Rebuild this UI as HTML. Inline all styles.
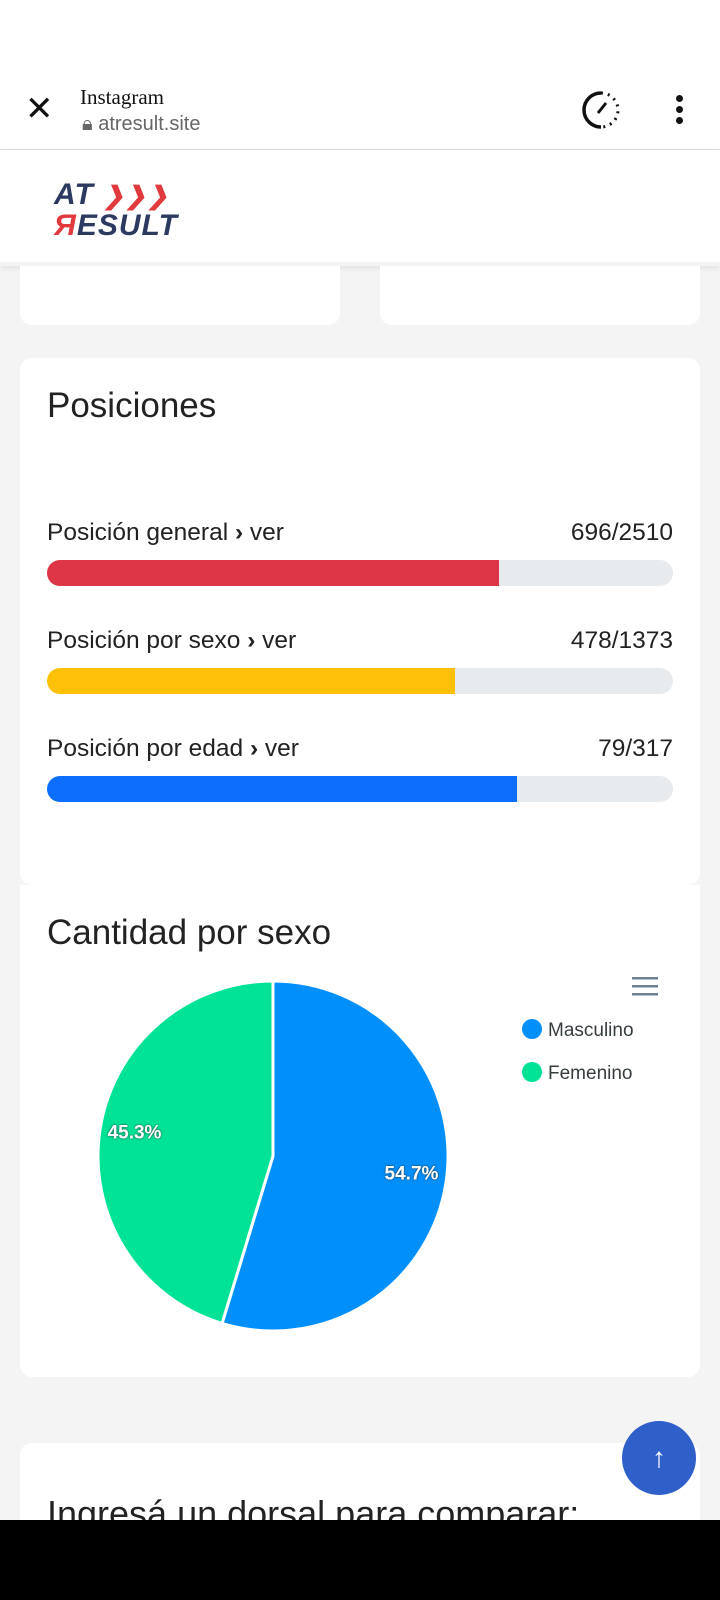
<!DOCTYPE html>
<html style="overflow:hidden;height:1600px"><head><meta charset="utf-8">
<style>
*{box-sizing:border-box;margin:0;padding:0}
body{width:720px;height:1600px;overflow:hidden;background:#f4f4f4;font-family:"Liberation Sans",sans-serif;color:#212529;position:relative}
.abs{position:absolute}
.card{position:absolute;background:#fff;border-radius:12px}
.lbl{position:absolute;left:27px;font-size:24.5px;color:#222;white-space:nowrap}
.val{position:absolute;right:27px;font-size:24.5px;color:#222}
.track{position:absolute;left:27px;width:626px;height:26px;border-radius:13px;background:#e8ebee;overflow:hidden}
.fill{height:100%}
</style></head><body>
<div class="abs" style="left:0;top:0;width:720px;height:149px;background:#fff"></div>
<div class="abs" style="left:25px;top:92px;font-size:34px;line-height:34px;color:#111">✕</div>
<div class="abs" style="left:80px;top:85px;font-family:'Liberation Serif',serif;font-size:21px;color:#111">Instagram</div>
<div class="abs" style="left:82px;top:113px;font-size:20px;color:#666">🔒︎ atresult.site</div>
<svg class="abs" style="left:580px;top:89px" width="42" height="42"><path d="M21 4 A17 17 0 0 0 21 38" fill="none" stroke="#111" stroke-width="3.5"/><path d="M21 4 A17 17 0 0 1 21 38" fill="none" stroke="#111" stroke-width="3" stroke-dasharray="2 5"/><line x1="18" y1="24" x2="26" y2="14" stroke="#111" stroke-width="3"/></svg>
<div class="abs" style="left:676px;top:95px;width:7px">
<div style="width:7px;height:7px;border-radius:50%;background:#111;margin-bottom:4px"></div><div style="width:7px;height:7px;border-radius:50%;background:#111;margin-bottom:4px"></div><div style="width:7px;height:7px;border-radius:50%;background:#111"></div></div>
<div class="abs" style="left:0;top:149px;width:720px;height:1px;background:#ddd"></div>
<div class="abs" style="left:0;top:150px;width:720px;height:116px;background:#fff;box-shadow:0 2px 6px rgba(0,0,0,.08)"></div>
<div class="abs" style="left:54px;top:180px;font-style:italic;font-weight:bold;font-size:30px;line-height:29px;color:#2b3a5e;letter-spacing:1px">AT <span style="color:#e0393e;font-size:25px">❯❯❯</span><br><span style="color:#e0393e">Я</span>ESULT</div>
<div class="card" style="left:20px;top:260px;width:320px;height:65px;border-radius:0 0 12px 12px"></div>
<div class="card" style="left:380px;top:260px;width:320px;height:65px;border-radius:0 0 12px 12px"></div>
<div class="abs" style="left:0;top:262px;width:720px;height:4px;background:#f4f4f4"></div>

<div class="card" style="left:20px;top:358px;width:680px;height:527px">
<div class="abs" style="left:27px;top:28px;font-size:35px;color:#222">Posiciones</div>
<div id="rows"></div>
</div>

<div class="card" style="left:20px;top:885px;width:680px;height:492px;border-radius:0 0 12px 12px">
<div class="abs" style="left:27px;top:28px;font-size:35px;color:#222">Cantidad por sexo</div>
</div>
<svg id="pie" class="abs" style="left:0;top:885px" width="720" height="492"></svg>

<div class="card" style="left:20px;top:1443px;width:680px;height:150px;overflow:hidden">
<div class="abs" style="left:27px;top:50px;font-size:36px;color:#222;white-space:nowrap">Ingresá un dorsal para comparar:</div>
</div>
<div class="abs" style="left:622px;top:1421px;width:74px;height:74px;border-radius:50%;background:#2f5fc9;color:#fff;font-size:28px;text-align:center;line-height:74px">↑</div>
<div class="abs" style="left:0;top:1520px;width:720px;height:80px;background:#000"></div>

<script>
const rowLabels=["Posición general","Posición por sexo","Posición por edad"];
const rowPos=[696,478,79];
const rowTotal=[2510,1373,317];
const rowColors=["#dc3545","#ffc107","#0d6efd"];
const rows=document.getElementById('rows');
rowLabels.forEach((l,i)=>{
  const a=document.createElement('div');a.className='lbl';a.style.top=(161+i*108)+'px';
  a.innerHTML=l+' <b>›</b> ver';
  
  
  rows.appendChild(a);
  const v=document.createElement('div');v.className='val';v.style.top=(161+i*108)+'px';v.textContent=rowPos[i]+'/'+rowTotal[i];
  
  
  rows.appendChild(v);
  const t=document.createElement('div');t.className='track';t.style.top=(202+i*108)+'px';
  
  
  const f=document.createElement('div');f.className='fill';f.style.background=rowColors[i];
  f.style.width=((1-rowPos[i]/rowTotal[i])*100)+'%';
  
  
  t.appendChild(f);rows.appendChild(t);
});
const pieCats=["Masculino","Femenino"];
const pieVals=[54.7,45.3];
const pieColors=["#008ffb","#00e396"];
const svg=document.getElementById('pie');const NS='http://www.w3.org/2000/svg';
const cx=273,cy=271,r=175;
const total=pieVals.reduce((a,b)=>a+b,0);
let ang=0;
pieVals.forEach((v,i)=>{
  const a0=ang,a1=ang+v/total*2*Math.PI;ang=a1;
  const p=(a)=>[cx+r*Math.sin(a),cy-r*Math.cos(a)];
  const [x0,y0]=p(a0),[x1,y1]=p(a1);
  const path=document.createElementNS(NS,'path');
  path.setAttribute('d',`M${cx},${cy}L${x0},${y0}A${r},${r} 0 ${a1-a0>Math.PI?1:0} 1 ${x1},${y1}Z`);
  path.setAttribute('fill',pieColors[i]);path.setAttribute('stroke','#fff');path.setAttribute('stroke-width','3');
  
  
  svg.appendChild(path);
  const m=(a0+a1)/2,lr=r*0.8;
  const t=document.createElementNS(NS,'text');
  t.setAttribute('x',cx+lr*Math.sin(m));t.setAttribute('y',cy-lr*Math.cos(m)+3);
  t.setAttribute('text-anchor','middle');t.setAttribute('fill','#fff');t.setAttribute('font-weight','bold');
  t.setAttribute('font-size','19');t.setAttribute('font-family','Liberation Sans, sans-serif');
  t.setAttribute('style','text-shadow:0 0 2px #333');
  t.textContent=v.toFixed(1)+'%';
  
  
  svg.appendChild(t);
  const c=document.createElementNS(NS,'circle');c.setAttribute('cx',532);c.setAttribute('cy',144+i*43);c.setAttribute('r',10);c.setAttribute('fill',pieColors[i]);
  
  
  svg.appendChild(c);
  const lt=document.createElementNS(NS,'text');lt.setAttribute('x',548);lt.setAttribute('y',151+i*43);lt.setAttribute('font-size','19');lt.setAttribute('fill','#373d3f');lt.setAttribute('font-family','Liberation Sans, sans-serif');
  lt.textContent=pieCats[i];
  
  
  svg.appendChild(lt);
});
for(let k=0;k<3;k++){const l=document.createElementNS(NS,'rect');l.setAttribute('x',632);l.setAttribute('y',92+k*8);l.setAttribute('width',26);l.setAttribute('height',2.5);l.setAttribute('fill','#6e8192');


svg.appendChild(l);}
</script>
</body></html>
